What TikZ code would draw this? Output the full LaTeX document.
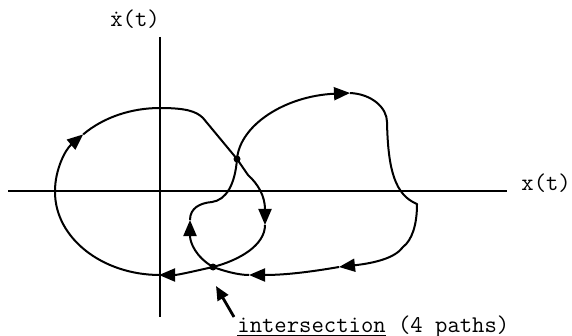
\documentclass[tikz,border=0pt]{standalone}
\usepackage{fontspec}
\usetikzlibrary{arrows.meta}
\begin{document}
\begin{tikzpicture}[x=0.5pt,y=-0.5pt,
  curve/.style={line width=1pt, line join=round},
  axis/.style={line width=1pt},
  tri/.tip={Triangle[length=8pt,width=6.5pt]},
  lbl/.style={font=\ttfamily\fontsize{12pt}{13pt}\selectfont\addfontfeature{FakeBold=1.2}, inner sep=0pt}]
\useasboundingbox (0,0) rectangle (572,336);
% axes
\coordinate (xl) at (8,191);
\coordinate (xr) at (507,191);
\coordinate (yt) at (160,37);
\coordinate (yb) at (160,317);
\draw[axis] (xl) -- (xr);
\draw[axis] (yt) -- (yb);
\node[lbl, anchor=base west] (xlab) at (521,191) {x(t)};
\node[lbl, anchor=base] (ylab) at (135,27) {\.{x}(t)};
% key points
\coordinate (T) at (160,108);
\coordinate (L) at (55,191);
\coordinate (B) at (160,275);
\coordinate (D1) at (237,159);
\coordinate (D2) at (213,267);
% big loop
\draw[curve,-{tri}] (L) arc[start angle=180,end angle=223,x radius=105,y radius=83] coordinate (a1);
\draw[curve] (a1) arc[start angle=223,end angle=270,x radius=105,y radius=83];
\coordinate (a2) at (265,225);
\draw[curve,-{tri}] (T) .. controls (185,108) and (196,111) .. (203,118) -- (D1) -- (248,175) .. controls (258,184) and (265,196) .. (a2);
\coordinate (a3) at (159,275);
\draw[curve,-{tri}] (a2) .. controls (265,245) and (240,260) .. (D2) .. controls (195,271) and (178,275) .. (a3);
\draw[curve] (B) arc[start angle=90,end angle=180,x radius=105,y radius=83];
% right loop
\coordinate (a4) at (350,93);
\coordinate (a5) at (339,267);
\coordinate (a6) at (249,275);
\draw[curve,-{tri}] (D1) .. controls (240,125) and (285,96) .. (a4);
\draw[curve,-{tri}] (a4) .. controls (372,94) and (387,108) .. (387,122) .. controls (388,170) and (395,195) .. (417,204) .. controls (417,225) and (412,240) .. (403,247) .. controls (395,258) and (375,263) .. (a5);
\draw[curve,-{tri}] (a5) .. controls (310,272) and (285,275) .. (a6);
\draw[curve] (a6) .. controls (238,275) and (224,271) .. (D2);
% inner loop
\coordinate (a7) at (190,220);
\draw[curve,-{tri}] (D2) .. controls (196,257) and (190,243) .. (a7);
\draw[curve] (a7) .. controls (190,208) and (200,203) .. (212,202) .. controls (226,200) and (235,185) .. (D1);
% dots
\fill (D1) circle[radius=3.5];
\fill (D2) circle[radius=3.5];
% pointer and label
\node[lbl, anchor=base west] (note) at (237,332) {\underline{intersection} (4 paths)};
\coordinate (ptail) at (234,317);
\coordinate (ptip) at (216,286);
\draw[line width=1.4pt,-{Triangle[length=7pt,width=6pt]}] (ptail) -- (ptip);
\end{tikzpicture}
\end{document}
